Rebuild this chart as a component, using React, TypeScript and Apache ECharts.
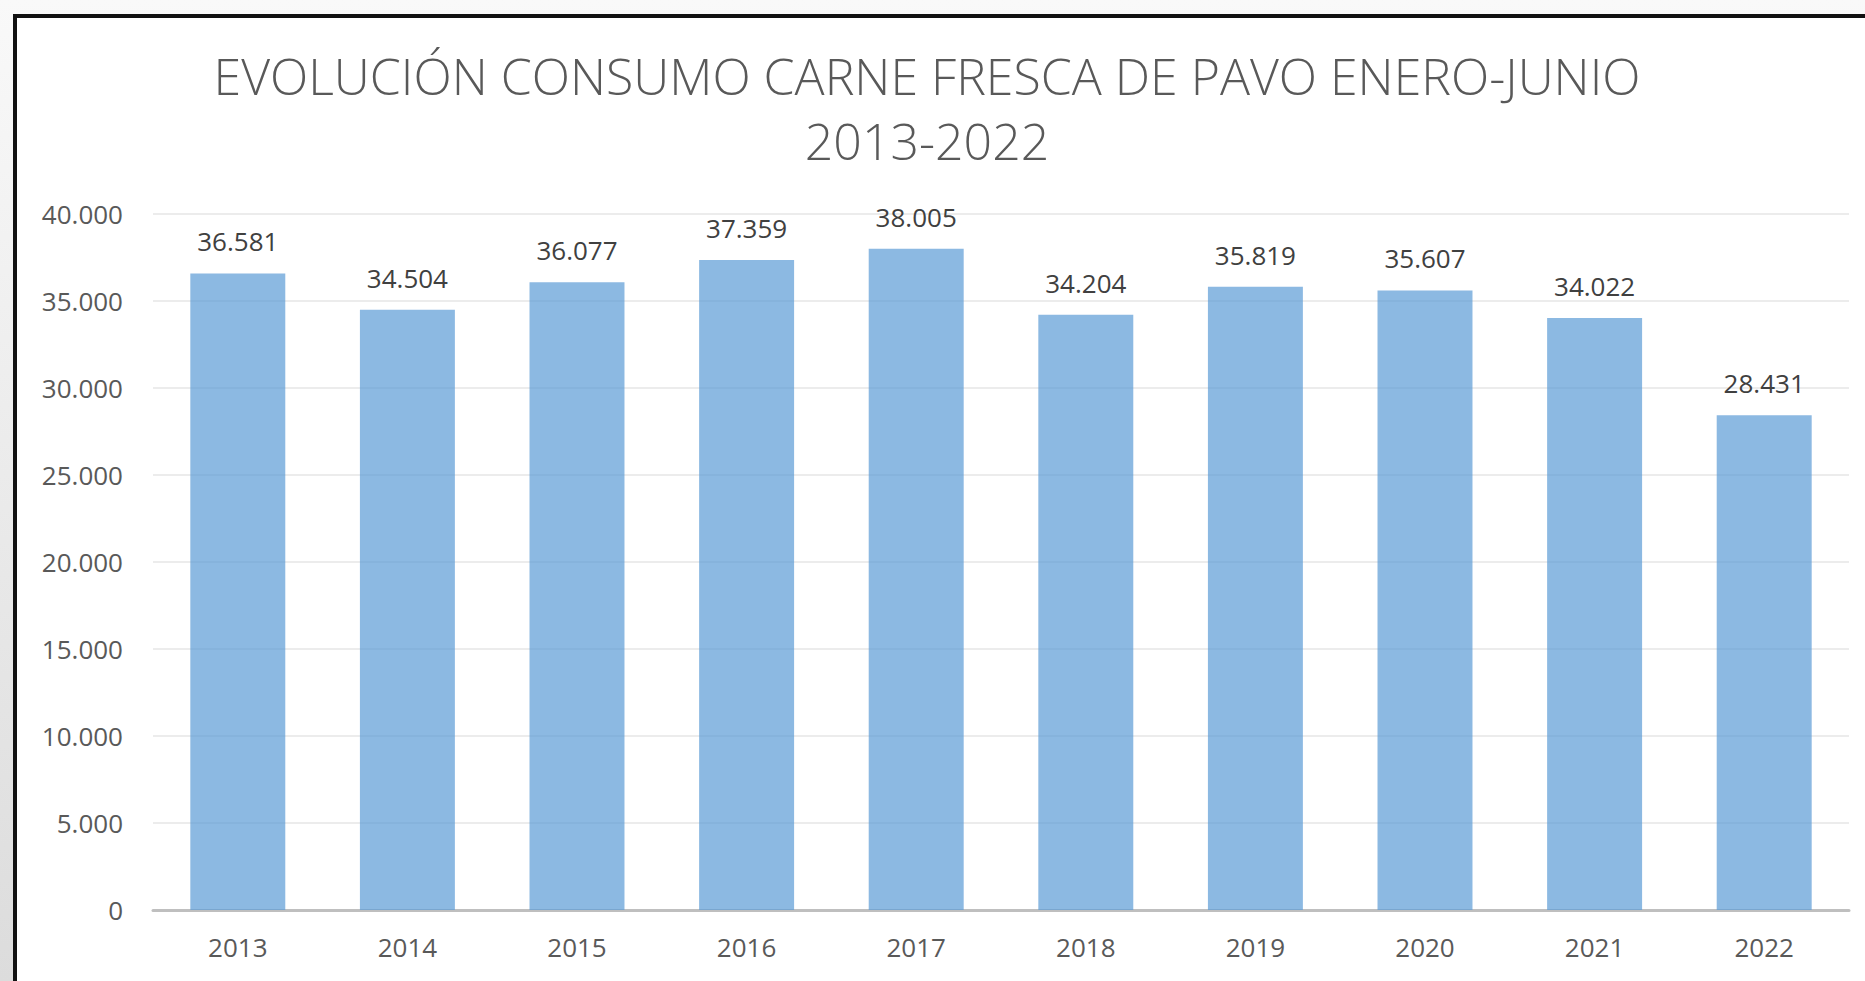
import React, { useEffect, useRef } from "react";
import * as echarts from "echarts";

const titleLines = ["EVOLUCIÓN CONSUMO CARNE FRESCA DE PAVO ENERO-JUNIO", "2013-2022"];
const years = ["2013", "2014", "2015", "2016", "2017", "2018", "2019", "2020", "2021", "2022"];
const consumo = [36581, 34504, 36077, 37359, 38005, 34204, 35819, 35607, 34022, 28431];
const yMin = 0;
const yMax = 40000;
const yStep = 5000;

const fmt = (v: number) => {
  const s = Math.round(v).toString();
  return s.replace(/\B(?=(\d{3})+(?!\d))/g, ".");
};

export default function App() {
  const ref = useRef<HTMLDivElement>(null);
  useEffect(() => {
    if (!ref.current) return;
    const chart = echarts.init(ref.current, null, { renderer: "svg" });
    const font = "'Open Sans', 'Noto Sans', sans-serif";
    chart.setOption({
      animation: false,
      backgroundColor: "transparent",
      title: {
        text: titleLines.join("\n"),
        left: 927,
        textAlign: "center",
        top: 43,
        padding: 0,
        textStyle: {
          fontFamily: font,
          fontSize: 50,
          fontWeight: 300,
          lineHeight: 65,
          color: "#595959",
        },
      },
      grid: { left: 153, right: 16, top: 214, bottom: 71, containLabel: false },
      xAxis: {
        type: "category",
        data: years,
        axisLine: { show: true, lineStyle: { color: "#bfbfbf", width: 3 } },
        axisTick: { show: false },
        axisLabel: {
          fontFamily: font,
          fontSize: 26,
          lineHeight: 26,
          color: "#595959",
          margin: 24,
        },
      },
      yAxis: {
        type: "value",
        min: yMin,
        max: yMax,
        interval: yStep,
        axisLine: { show: false },
        axisTick: { show: false },
        splitLine: { lineStyle: { color: "#ececec", width: 2 } },
        axisLabel: {
          fontFamily: font,
          fontSize: 26,
          color: "#595959",
          margin: 30,
          formatter: (v: number) => fmt(v),
        },
      },
      series: [
        {
          type: "bar",
          data: consumo,
          barCategoryGap: "44%",
          itemStyle: { color: "rgba(91,155,213,0.7)" },
          label: {
            show: true,
            position: "top",
            distance: 19,
            fontFamily: font,
            fontSize: 26,
            lineHeight: 26,
            color: "#404040",
            formatter: (p: any) => fmt(p.value),
          },
        },
      ],
    });
    return () => chart.dispose();
  }, []);

  return (
    <div
      style={{
        position: "fixed",
        left: 0,
        top: 0,
        width: 1865,
        height: 981,
        background: "linear-gradient(#f9f9f9, #dcdcdc)",
        overflow: "hidden",
      }}
    >
      <div
        style={{
          position: "absolute",
          left: 13,
          top: 14,
          width: 1900,
          height: 1000,
          background: "#ffffff",
          borderLeft: "4px solid #111111",
          borderTop: "4px solid #111111",
        }}
      />
      <div ref={ref} style={{ position: "absolute", left: 0, top: 0, width: 1865, height: 981 }} />
    </div>
  );
}
